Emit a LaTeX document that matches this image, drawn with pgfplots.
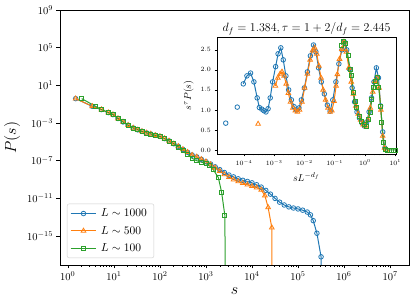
\RequirePackage{fix-cm}
\documentclass[border=0pt]{standalone}
\usepackage{pgfplots}
\pgfplotsset{compat=1.18}
\definecolor{tabblue}{HTML}{1F77B4}
\definecolor{taborange}{HTML}{FF7F0E}
\definecolor{tabgreen}{HTML}{2CA02C}
\pgfplotsset{
  sblue/.style={color=tabblue, line width=1pt, mark=o, mark size=2.3pt, mark options={solid, draw=tabblue, line width=0.8pt}},
  sorange/.style={color=taborange, line width=1pt, mark=triangle, mark size=2.7pt, mark options={solid, draw=taborange, line width=0.8pt}},
  sgreen/.style={color=tabgreen, line width=1pt, mark=square, mark size=2pt, mark options={solid, draw=tabgreen, line width=0.8pt}},
}
\begin{document}
\begin{tikzpicture}
\path[use as bounding box] (-60pt,-42pt) rectangle (355pt,265pt);
\begin{axis}[
  at={(0pt,0pt)}, anchor=south west,
  scale only axis, width=349pt, height=255pt,
  xmode=log, ymode=log,
  xmin=0.676, xmax=2.57e7, ymin=8.5e-19, ymax=1e9,
  xtick={1,10,100,1000,1e4,1e5,1e6,1e7},
  ytick={1e-15,1e-11,1e-7,1e-3,1e1,1e5,1e9},
  yminorticks=false,
  tick pos=left, tick align=outside,
  major tick length=3.5pt, minor tick length=2pt,
  tick style={black, line width=0.6pt},
  axis line style={line width=0.6pt},
  ticklabel style={font=\fontsize{10.5}{12}\selectfont},
  xlabel={$s$}, ylabel={$P(s)$},
  label style={font=\fontsize{16}{18}\selectfont},
  legend style={at={(0.02,0.027)}, anchor=south west, draw=black!20, rounded corners=2pt,
    fill=white, font=\fontsize{11.5}{13}\selectfont, row sep=4pt, inner xsep=3pt, inner ysep=3pt,
    nodes={inner xsep=4pt}},
  legend cell align=left,
  legend image code/.code={\draw[mark repeat=2,mark phase=2] plot coordinates {(0cm,0cm)(0.45cm,0cm)(0.9cm,0cm)};},
]
\addplot[sblue] coordinates {(1.48,3.89e-1)(3.39,6.03e-2)(5.37,2.69e-2)(7.59,1.29e-2)(9.55,7.94e-3)(12.3,3.02e-3)(15.8,1.32e-3)(20.4,5.89e-4)(26.3,3.02e-4)(33.1,1.91e-4)(40.7,1.32e-4)(51.3,8.91e-5)(63.1,6.92e-5)(79.4,5.01e-5)(100,3.80e-5)(126,2.24e-5)(158,1.26e-5)(200,6.31e-6)(251,3.39e-6)(316,1.58e-6)(398,7.94e-7)(501,3.98e-7)(631,2.51e-7)(794,1.41e-7)(1000,7.94e-8)(1259,4.47e-8)(1585,2.24e-8)(1995,1.12e-8)(2512,5.62e-9)(3162,3.02e-9)(3981,1.91e-9)(5012,1.20e-9)(6310,8.32e-10)(7943,6.31e-10)(10000,4.47e-10)(12589,2.82e-10)(15849,1.58e-10)(19953,7.08e-11)(25119,2.82e-11)(31623,1.00e-11)(39811,3.98e-12)(50119,2.00e-12)(63096,1.26e-12)(79433,9.55e-13)(100000,7.59e-13)(125893,5.62e-13)(158489,3.55e-13)(186209,1.78e-13)(213796,4.37e-14)(257040,2.00e-15)(316228,6.31e-18)};
\addlegendentry{$L\sim 1000$}
\addplot[sorange] coordinates {(1.48,3.89e-1)(3.39,6.03e-2)(5.37,2.69e-2)(7.59,1.29e-2)(9.55,7.94e-3)(12.3,3.02e-3)(15.8,1.32e-3)(20.4,5.89e-4)(26.3,3.02e-4)(33.1,1.91e-4)(40.7,1.32e-4)(51.3,8.91e-5)(63.1,6.92e-5)(79.4,5.01e-5)(100,3.80e-5)(126,2.24e-5)(158,1.26e-5)(200,6.31e-6)(251,3.39e-6)(316,1.58e-6)(398,7.94e-7)(501,3.98e-7)(631,2.51e-7)(794,1.41e-7)(1000,7.94e-8)(1259,3.98e-8)(1585,1.78e-8)(1995,7.94e-9)(2512,3.55e-9)(3162,1.78e-9)(3981,1.00e-9)(5012,6.31e-10)(6310,4.17e-10)(7943,2.82e-10)(10000,2.00e-10)(12589,1.41e-10)(15849,7.94e-11)(19055,2.00e-11)(22387,1.12e-12)(26915,7.94e-15)};
\addlegendentry{$L\sim 500$}
\addplot[sgreen] coordinates {(2.0,3.89e-1)(3.98,6.03e-2)(5.37,2.69e-2)(7.59,1.29e-2)(9.55,7.94e-3)(12.3,3.02e-3)(15.8,1.32e-3)(20.4,5.89e-4)(26.3,3.02e-4)(33.1,1.91e-4)(40.7,1.32e-4)(51.3,8.91e-5)(63.1,6.92e-5)(79.4,5.01e-5)(100,3.80e-5)(126,2.24e-5)(158,1.26e-5)(200,6.31e-6)(251,2.82e-6)(316,1.26e-6)(398,5.01e-7)(501,1.78e-7)(631,1.00e-7)(794,7.08e-8)(1000,5.01e-8)(1202,2.82e-8)(1445,1.12e-8)(1862,1.58e-9)(2188,4.47e-11)(2570,1.58e-13)};
\addlegendentry{$L\sim 100$}
\addplot[color=tabblue, line width=1pt, forget plot] coordinates {(316228,6.31e-18)(320000,1e-25)};
\addplot[color=taborange, line width=1pt, forget plot] coordinates {(26915,7.94e-15)(27500,1e-25)};
\addplot[color=tabgreen, line width=1pt, forget plot] coordinates {(2570,1.58e-13)(2690,1e-25)};
\end{axis}
\begin{axis}[
  at={(157pt,111pt)}, anchor=south west,
  scale only axis, width=179pt, height=117pt,
  xmode=log, xmin=1.29e-5, xmax=10.7, ymin=-0.1, ymax=2.82,
  xtick={1e-4,1e-3,1e-2,1e-1,1,10},
  ytick={0,0.5,1,1.5,2,2.5},
  yticklabel style={/pgf/number format/fixed, /pgf/number format/fixed zerofill, /pgf/number format/precision=1},
  axis background/.style={fill=white},
  tick pos=left, tick align=outside,
  major tick length=2.5pt, minor tick length=1.5pt,
  tick style={black, line width=0.5pt},
  axis line style={line width=0.6pt},
  ticklabel style={font=\fontsize{6.5}{7}\selectfont},
  xlabel={$sL^{-d_f}$}, ylabel={$s^\tau P(s)$},
  label style={font=\fontsize{10}{12}\selectfont},
  clip=false,
]
\node[anchor=south, inner sep=2pt, font=\fontsize{12}{14}\selectfont] at (rel axis cs:0.5,1) {$d_f = 1.384, \tau = 1+2/d_f = 2.445$};
\begin{scope}
\clip (rel axis cs:0,0) rectangle (rel axis cs:1,1);
\addplot[sblue, only marks, forget plot] coordinates {(2.51e-5,0.67)(6.03e-5,1.07)};
\addplot[sblue] coordinates {(9.55e-5,1.65)(1.26e-4,1.85)(1.66e-4,1.92)(2.14e-4,1.70)(2.75e-4,1.30)(3.24e-4,1.06)(3.89e-4,1.02)(4.57e-4,0.98)(5.37e-4,0.95)(6.31e-4,1.03)(7.41e-4,1.30)(8.91e-4,1.70)(1.12e-3,2.08)(1.35e-3,2.40)(1.66e-3,2.55)(2.00e-3,2.25)(2.45e-3,1.85)(3.02e-3,1.50)(3.72e-3,1.25)(4.57e-3,1.08)(5.50e-3,1.00)(6.61e-3,1.05)(7.94e-3,1.25)(1.00e-2,1.55)(1.26e-2,1.95)(1.58e-2,2.35)(2.00e-2,2.62)(2.40e-2,2.45)(2.95e-2,2.05)(3.63e-2,1.70)(4.57e-2,1.40)(5.75e-2,1.12)(7.08e-2,0.97)(8.71e-2,1.25)(1.10e-1,1.70)(1.38e-1,2.15)(1.74e-1,2.50)(2.09e-1,2.70)(2.51e-1,2.50)(3.09e-1,2.02)(3.80e-1,1.55)(4.57e-1,1.20)(5.50e-1,0.95)(6.61e-1,0.80)(7.94e-1,0.68)(9.55e-1,0.60)(1.15,0.70)(1.38,0.95)(1.66,1.30)(2.00,1.70)(2.40,2.05)(2.82,1.80)(3.31,1.10)(3.89,0.45)(4.57,0.05)};
\addplot[sorange, only marks, forget plot] coordinates {(2.95e-4,0.65)};
\addplot[sorange] coordinates {(1.10e-3,1.60)(1.32e-3,1.80)(1.58e-3,1.90)(1.82e-3,1.95)(2.14e-3,1.85)(2.51e-3,1.65)(2.95e-3,1.42)(3.47e-3,1.20)(4.17e-3,1.05)(5.01e-3,0.98)(5.89e-3,0.95)(6.92e-3,1.00)(8.32e-3,1.20)(1.02e-2,1.55)(1.26e-2,1.90)(1.55e-2,2.25)(1.86e-2,2.48)(2.19e-2,2.55)(2.57e-2,2.40)(3.02e-2,2.10)(3.55e-2,1.80)(4.17e-2,1.50)(5.01e-2,1.25)(6.03e-2,1.05)(7.08e-2,0.95)(8.13e-2,0.98)(9.55e-2,1.22)(1.12e-1,1.60)(1.23e-1,1.89)(1.45e-1,2.27)(1.74e-1,2.52)(2.04e-1,2.70)(2.45e-1,2.45)(2.95e-1,2.05)(3.55e-1,1.70)(4.17e-1,1.40)(5.01e-1,1.10)(6.03e-1,0.90)(7.24e-1,0.75)(8.71e-1,0.63)(1.05,0.60)(1.26,0.75)(1.51,1.05)(1.82,1.45)(2.14,1.72)(2.51,1.80)(2.95,1.55)(3.39,1.00)(3.89,0.35)(4.47,0.05)(5.13,0.00)};
\addplot[sgreen] coordinates {(1.70e-1,2.62)(2.00e-1,2.72)(2.34e-1,2.65)(2.75e-1,2.35)(3.24e-1,2.02)(3.72e-1,1.85)(4.17e-1,1.43)(4.79e-1,1.22)(5.37e-1,1.06)(6.61e-1,0.85)(7.94e-1,0.72)(9.33e-1,0.64)(1.10,0.60)(1.32,0.77)(1.48,0.93)(1.70,1.27)(1.91,1.56)(2.19,1.72)(2.51,1.80)(2.88,1.55)(3.31,1.10)(3.63,0.70)(4.07,0.18)(4.68,0.02)(5.62,0.00)(6.61,0.00)(7.59,0.00)(8.71,0.00)(10.0,0.00)};
\end{scope}
\end{axis}
\end{tikzpicture}
\end{document}
